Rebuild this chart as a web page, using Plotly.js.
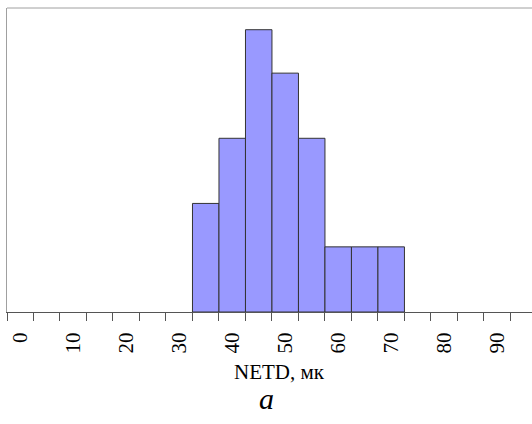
<!DOCTYPE html>
<html>
<head>
<meta charset="utf-8">
<script src="https://cdn.plot.ly/plotly-3.0.1.min.js"></script>
<style>html,body{margin:0;padding:0;background:#fff;}#chart{width:532px;height:424px;}</style>
</head>
<body>
<div id="chart"></div>
<script>
// Histogram bins (left edges, NETD in mK), bin width and counts
var binStarts = [35, 40, 45, 50, 55, 60, 65, 70];
var binWidth = 5;
var counts = [5, 8, 13, 11, 8, 3, 3, 3];
// Axis labels
var tickVals = [0, 10, 20, 30, 40, 50, 60, 70, 80, 90];
var tickText = ["0", "10", "20", "30", "40", "50", "60", "70", "80", "90"];
var xTitle = "NETD, мк";
var caption = "a";

var centers = binStarts.map(function (s) { return s + binWidth / 2; });
var widths = binStarts.map(function () { return binWidth; });

var serif = "Liberation Serif";

var trace = {
  type: "bar",
  x: centers,
  y: counts,
  width: widths,
  marker: { color: "#9999ff", line: { color: "#333333", width: 1 } },
  hoverinfo: "skip"
};

var layout = {
  width: 532,
  height: 424,
  margin: { l: 7, r: 0, t: 8, b: 112 },
  paper_bgcolor: "#ffffff",
  plot_bgcolor: "#ffffff",
  showlegend: false,
  bargap: 0,
  font: { family: serif },
  xaxis: {
    range: [0, 99.07],
    tickmode: "array",
    tickvals: tickVals,
    ticktext: tickText,
    tickangle: -90,
    ticks: "outside",
    ticklen: 8,
    tickwidth: 1,
    tickcolor: "#555555",
    ticklabelshift: 13,
    ticklabelstandoff: 3,
    minor: { dtick: 5, tick0: 0, ticks: "outside", ticklen: 8, tickwidth: 1, tickcolor: "#555555", showgrid: false },
    tickfont: { family: serif, size: 21, color: "#000000" },
    showline: true,
    linecolor: "#555555",
    linewidth: 1,
    showgrid: false,
    zeroline: false,
    fixedrange: true
  },
  yaxis: {
    range: [0, 14],
    showticklabels: false,
    ticks: "",
    showline: true,
    linecolor: "#a0a0a0",
    linewidth: 1,
    showgrid: false,
    zeroline: false,
    fixedrange: true
  },
  shapes: [
    { type: "line", xref: "paper", yref: "paper", x0: 0, x1: 1, y0: 1, y1: 1,
      line: { color: "#a0a0a0", width: 1 } }
  ],
  annotations: [
    { text: xTitle, xref: "paper", yref: "paper", x: 0.519, y: -0.197,
      xanchor: "center", yanchor: "middle", showarrow: false,
      font: { family: serif, size: 21, color: "#000000" } },
    { text: "<i>" + caption + "</i>", xref: "paper", yref: "paper", x: 0.495, y: -0.285,
      xanchor: "center", yanchor: "middle", showarrow: false,
      font: { family: serif, size: 30, color: "#000000" } }
  ]
};

Plotly.newPlot("chart", [trace], layout, { displayModeBar: false, staticPlot: true });
</script>
</body>
</html>
